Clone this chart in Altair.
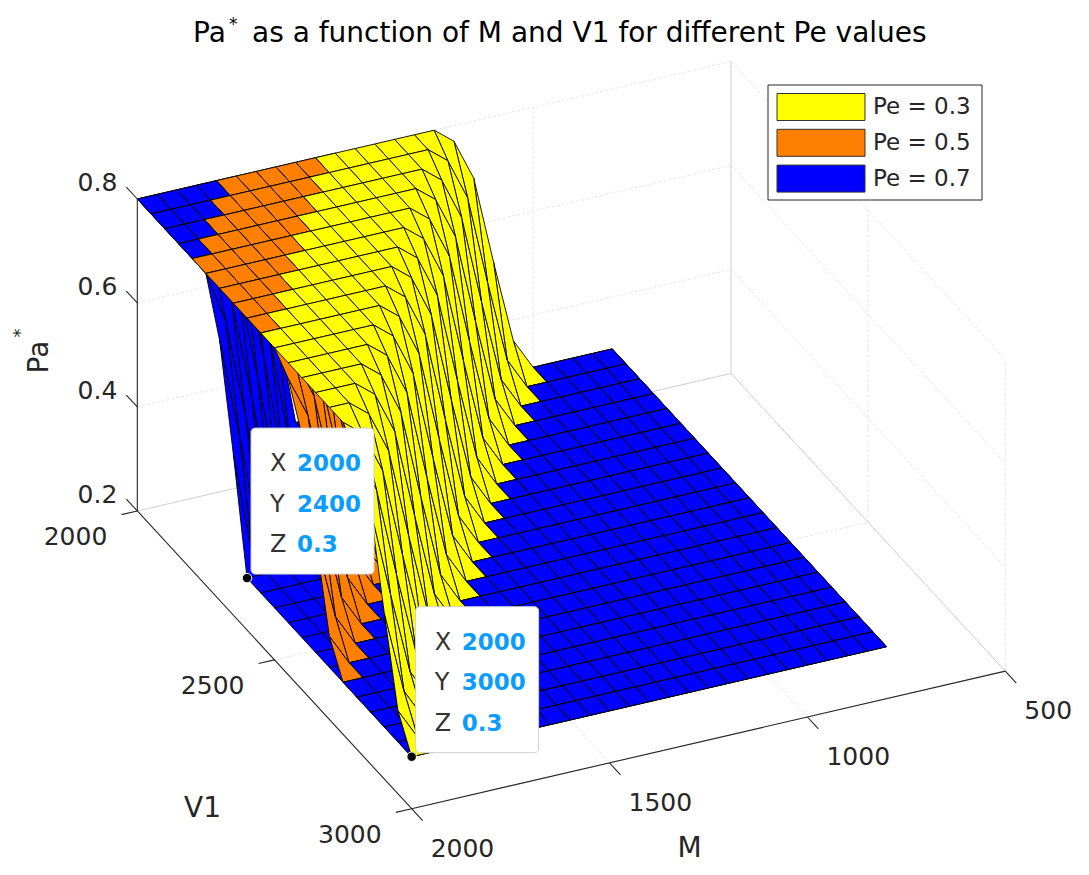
import math

import altair as alt
import pandas as pd

# ---------------- values ----------------
M_VALUES = [800, 850, 900, 950, 1000, 1050, 1100, 1150, 1200, 1250, 1300, 1350, 1400,
            1450, 1500, 1550, 1600, 1650, 1700, 1750, 1800, 1850, 1900, 1950, 2000]
V1_VALUES = [2000, 2050, 2100, 2150, 2200, 2250, 2300, 2350, 2400, 2450, 2500,
             2550, 2600, 2650, 2700, 2750, 2800, 2850, 2900, 2950, 3000]

PE_LABELS = ["Pe = 0.3", "Pe = 0.5", "Pe = 0.7"]
PE_COLORS = ["#FFFF00", "#FF8000", "#0000FF"]
# Pa* stays on its plateau while M - V1 >= edge
PE_EDGE = [-750, -500, -250]
# values past the edge, one per 50 step of (M - V1)
PE_DROP = [
    [0.8, 0.77, 0.69, 0.52, 0.36, 0.3],
    [0.8, 0.77, 0.69, 0.52, 0.36, 0.3],
    [0.8, 0.7, 0.51, 0.3],
]
PA_LOW = 0.3

M_TICKS = [500, 1000, 1500, 2000]
V1_TICKS = [2000, 2500, 3000]
Z_TICKS = [0.2, 0.4, 0.6, 0.8]
Z_TICK_LABELS = ["0.2", "0.4", "0.6", "0.8"]

DATATIPS = [(2000, 2400, 0.3), (2000, 3000, 0.3)]

# ---------------- 3d view (matlab like) ----------------
M_LIM, V1_LIM, Z_LIM = (500, 2000), (2000, 3000), (0.2, 0.8)
AZ, EL = math.radians(155.2), math.radians(30.1)
BOX_SIDE, BOX_TALL = 654.0, 360.6
ORIGIN = (731.0, 373.4)  # screen point of the back floor corner
CA, SA, CE, SE = math.cos(AZ), math.sin(AZ), math.cos(EL), math.sin(EL)

FONT = "DejaVu Sans"
AX_COLOR = "#262626"
GRID_COLOR = "#e6e6e6"


def norm(m, v, z):
    return ((m - M_LIM[0]) / (M_LIM[1] - M_LIM[0]),
            (v - V1_LIM[0]) / (V1_LIM[1] - V1_LIM[0]),
            (z - Z_LIM[0]) / (Z_LIM[1] - Z_LIM[0]))


def project(m, v, z):
    X, Y, Z = norm(m, v, z)
    sx = ORIGIN[0] + BOX_SIDE * (CA * X + SA * Y)
    up = BOX_SIDE * SE * (-SA * X + CA * Y) + BOX_TALL * CE * Z
    return round(sx, 2), round(ORIGIN[1] - up, 2)


def closeness(m, v, z):
    X, Y, Z = norm(m, v, z)
    return BOX_SIDE * CE * (SA * X - CA * Y) + BOX_TALL * SE * Z


def pa_value(p, m, v):
    d = m - v - PE_EDGE[p]
    if d >= 0:
        return PE_DROP[p][0]
    k = int(round(-d / 50))
    return PE_DROP[p][k] if k < len(PE_DROP[p]) else PA_LOW


# surface quads, painter order (far first, blue wins ties)
quads = []
for p, label in enumerate(PE_LABELS):
    grid = [[pa_value(p, m, v) for m in M_VALUES] for v in V1_VALUES]
    for j in range(len(V1_VALUES) - 1):
        for i in range(len(M_VALUES) - 1):
            pts = [(M_VALUES[a], V1_VALUES[b], grid[b][a])
                   for a, b in [(i, j), (i + 1, j), (i + 1, j + 1), (i, j + 1)]]
            c = [sum(q[k] for q in pts) / 4 for k in range(3)]
            quads.append((round(closeness(*c), 6), p, label, pts))
quads.sort(key=lambda q: (q[0], q[1]))

rows = []
for qid, (_, _, label, pts) in enumerate(quads):
    for vi, pt in enumerate(pts + pts[:1]):
        sx, sy = project(*pt)
        rows.append({"qid": qid, "vi": vi, "pe": label, "x": sx, "y": sy})
surf_df = pd.DataFrame(rows)


def seg(a, b):
    x, y = project(*a)
    x2, y2 = project(*b)
    return {"x": x, "y": y, "x2": x2, "y2": y2}


# grid on back walls and floor
grid_rows = []
for t in Z_TICKS:
    grid_rows.append(seg((2000, 2000, t), (500, 2000, t)))
    grid_rows.append(seg((500, 2000, t), (500, 3000, t)))
for t in M_TICKS[:-1]:
    grid_rows.append(seg((t, 2000, 0.2), (t, 2000, 0.8)))
    grid_rows.append(seg((t, 2000, 0.2), (t, 3000, 0.2)))
for t in V1_TICKS[1:]:
    grid_rows.append(seg((500, t, 0.2), (500, t, 0.8)))
    grid_rows.append(seg((2000, t, 0.2), (500, t, 0.2)))
# box edges behind the surface
edge_rows = [
    seg((500, 2000, 0.2), (500, 2000, 0.8)),
    seg((2000, 2000, 0.2), (500, 2000, 0.2)),
    seg((500, 2000, 0.2), (500, 3000, 0.2)),
]

# axis lines and ticks
axis_rows = [
    seg((2000, 2000, 0.2), (2000, 2000, 0.8)),
    seg((2000, 2000, 0.2), (2000, 3000, 0.2)),
    seg((2000, 3000, 0.2), (500, 3000, 0.2)),
]
labels = []
for t, txt in zip(Z_TICKS, Z_TICK_LABELS):
    axis_rows.append(seg((2000, 2000, t), (2000, 1960, t)))
    bx, by = project(2000, 2000, t)
    labels.append({"x": bx - 20, "y": by - 16, "text": txt, "align": "right"})
for t in V1_TICKS:
    axis_rows.append(seg((2000, t, 0.2), (2040, t, 0.2)))
    bx, by = project(2000, t, 0.2)
    labels.append({"x": bx - 30, "y": by + 26, "text": str(t), "align": "right"})
for t in M_TICKS:
    axis_rows.append(seg((t, 3000, 0.2), (t, 3040, 0.2)))
    bx, by = project(t, 3000, 0.2)
    labels.append({"x": bx + 19, "y": by + 40, "text": str(t), "align": "left"})
label_df = pd.DataFrame(labels)

X_SC = alt.Scale(domain=[8, 1081], nice=False, zero=False)
Y_SC = alt.Scale(domain=[8, 867], nice=False, zero=False, reverse=True)


def xy(xf="x", yf="y"):
    return dict(x=alt.X(f"{xf}:Q", scale=X_SC, axis=None),
                y=alt.Y(f"{yf}:Q", scale=Y_SC, axis=None))


grid = alt.Chart(pd.DataFrame(grid_rows)).mark_rule(
    color=GRID_COLOR, strokeWidth=1, strokeDash=[3, 2]
).encode(**xy(), x2="x2:Q", y2="y2:Q")

edges = alt.Chart(pd.DataFrame(edge_rows)).mark_rule(
    color="#d4d4d4", strokeWidth=1
).encode(**xy(), x2="x2:Q", y2="y2:Q")

axes = alt.Chart(pd.DataFrame(axis_rows)).mark_rule(
    color=AX_COLOR, strokeWidth=1.1
).encode(**xy(), x2="x2:Q", y2="y2:Q")

surface = alt.Chart(surf_df).mark_line(
    stroke="black", strokeWidth=0.9, strokeJoin="round"
).encode(
    **xy(),
    fill=alt.Fill("pe:N", scale=alt.Scale(domain=PE_LABELS, range=PE_COLORS), legend=None),
    detail="qid:N",
    order="vi:Q",
)

tick_right = alt.Chart(label_df[label_df["align"] == "right"]).mark_text(
    align="right", baseline="middle", font=FONT, fontSize=25, color=AX_COLOR
).encode(**xy(), text="text:N")
tick_left = alt.Chart(label_df[label_df["align"] == "left"]).mark_text(
    align="left", baseline="middle", font=FONT, fontSize=25, color=AX_COLOR
).encode(**xy(), text="text:N")

# axis titles
mx, my = project(1250, 3000, 0.2)
vx, vy = project(2000, 2500, 0.2)
zx, zy = project(2000, 2000, 0.5)
ax_titles = pd.DataFrame([
    {"x": mx - 19, "y": my + 109, "text": "M"},
    {"x": vx - 72, "y": vy + 149, "text": "V1"},
])
ax_text = alt.Chart(ax_titles).mark_text(
    align="center", baseline="middle", font=FONT, fontSize=28, color=AX_COLOR
).encode(**xy(), text="text:N")
z_title = alt.Chart(pd.DataFrame([{"x": zx - 97, "y": zy + 2, "text": "Pa"}])).mark_text(
    align="center", baseline="middle", font=FONT, fontSize=28, color=AX_COLOR, angle=270
).encode(**xy(), text="text:N")
z_star = alt.Chart(pd.DataFrame([{"x": zx - 116, "y": zy - 22, "text": "*"}])).mark_text(
    align="center", baseline="middle", font=FONT, fontSize=18, color=AX_COLOR, angle=270
).encode(**xy(), text="text:N")

# title with superscript star
title_df = pd.DataFrame([
    {"x": 193, "y": 42, "text": "Pa", "size": 28},
    {"x": 229, "y": 30, "text": "*", "size": 17},
    {"x": 252, "y": 42, "text": "as a function of M and V1 for different Pe values", "size": 28},
])
title = alt.Chart(title_df).mark_text(
    align="left", baseline="alphabetic", font=FONT, color="black"
).encode(**xy(), text="text:N", size=alt.Size("size:Q", scale=None, legend=None))

# legend box
leg_box = alt.Chart(pd.DataFrame([{"x": 768, "y": 85, "x2": 982, "y2": 200}])).mark_rect(
    fill="white", stroke=AX_COLOR, strokeWidth=1
).encode(**xy(), x2="x2:Q", y2="y2:Q")
leg_rows = []
for k, (lab, col) in enumerate(zip(PE_LABELS, PE_COLORS)):
    cy = 107 + 35.8 * k
    leg_rows.append({"x": 777, "x2": 865, "y": cy - 13.5, "y2": cy + 13.5,
                     "tx": 873, "ty": cy, "text": lab, "col": col})
leg_df = pd.DataFrame(leg_rows)
leg_patch = alt.Chart(leg_df).mark_rect(stroke="#333333", strokeWidth=1).encode(
    **xy(), x2="x2:Q", y2="y2:Q", fill=alt.Fill("col:N", scale=None)
)
leg_text = alt.Chart(leg_df).mark_text(
    align="left", baseline="middle", font=FONT, fontSize=23, color=AX_COLOR
).encode(**xy("tx", "ty"), text="text:N")

# data tips
tip_boxes, tip_keys, tip_vals, tip_dots = [], [], [], []
for m, v, z in DATATIPS:
    px, py = project(m, v, z)
    left, bottom = px + 4, py - 4
    top = bottom - 146
    tip_boxes.append({"x": left, "x2": left + 123, "y": top, "y2": bottom})
    tip_dots.append({"x": px, "y": py})
    for r, (key, val) in enumerate([("X", m), ("Y", v), ("Z", z)]):
        tip_keys.append({"x": left + 19, "y": top + 36 + 40.5 * r, "text": key})
        tip_vals.append({"x": left + 46, "y": top + 36 + 40.5 * r, "text": str(val)})
tips = alt.layer(
    alt.Chart(pd.DataFrame(tip_boxes)).mark_rect(
        fill="white", stroke="#cfcfcf", strokeWidth=1, cornerRadius=4
    ).encode(**xy(), x2="x2:Q", y2="y2:Q"),
    alt.Chart(pd.DataFrame(tip_keys)).mark_text(
        align="left", baseline="middle", font=FONT, fontSize=24, color="#333333"
    ).encode(**xy(), text="text:N"),
    alt.Chart(pd.DataFrame(tip_vals)).mark_text(
        align="left", baseline="middle", font=FONT, fontSize=23, fontWeight="bold", color="#0a9dff"
    ).encode(**xy(), text="text:N"),
    alt.Chart(pd.DataFrame(tip_dots)).mark_point(
        filled=True, fill="black", stroke="white", strokeWidth=1, size=90, opacity=1
    ).encode(**xy()),
)

chart = alt.layer(
    grid, edges, axes, surface, tick_right, tick_left, ax_text, z_title, z_star,
    title, leg_box, leg_patch, leg_text, tips,
).properties(
    width=1073, height=859, padding=0, autosize="none", background="white"
).configure_view(strokeWidth=0)

chart.save("out.html", embed_options={"renderer": "svg", "actions": False})
